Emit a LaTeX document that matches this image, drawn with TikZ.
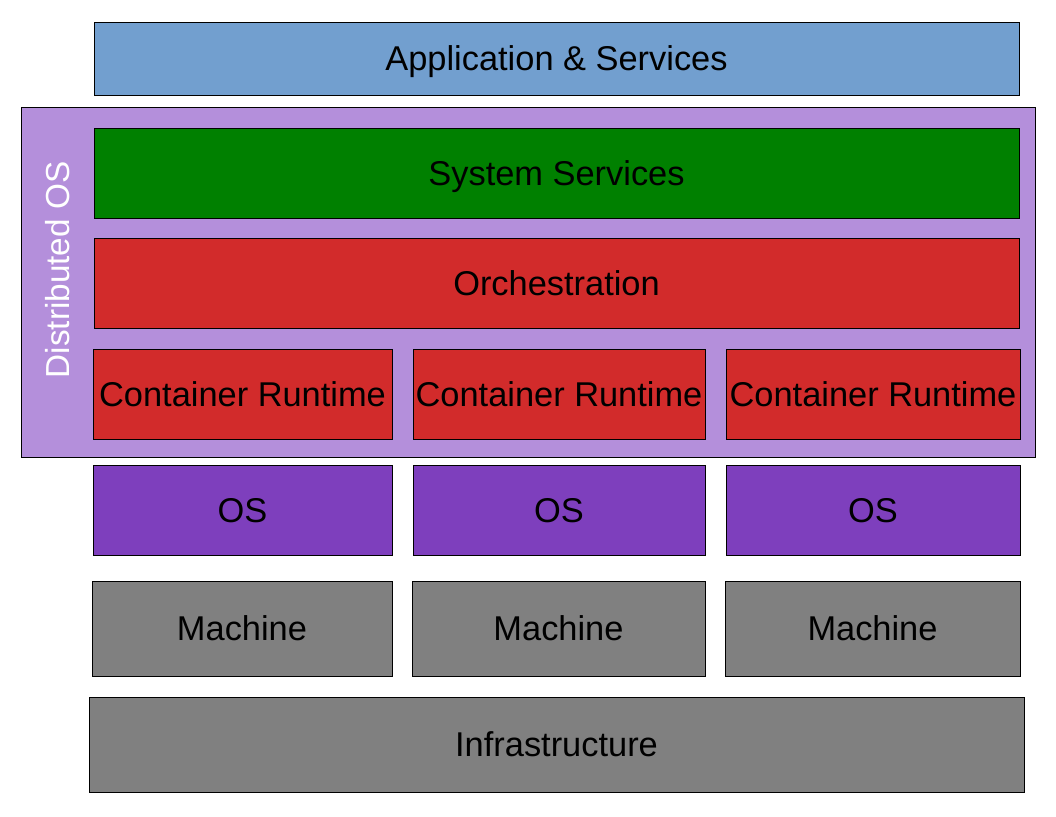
\documentclass[tikz,border=0pt]{standalone}
\usepackage{fontspec}
\setmainfont{Liberation Sans}
\definecolor{appblue}{HTML}{729FCF}
\definecolor{sysgreen}{HTML}{008000}
\definecolor{orchred}{HTML}{D22B2B}
\definecolor{ospurple}{HTML}{7E3FBD}
\definecolor{distlilac}{HTML}{B48FDB}
\definecolor{hwgray}{HTML}{808080}
\begin{document}
\begin{tikzpicture}[x=1pt, y=-1pt,
  layer/.style={draw=black, line width=0.9pt, inner sep=0pt, text depth=0pt, font=\fontsize{34.4}{40}\selectfont}]
\useasboundingbox (0,0) rectangle (1056,816);
\node[layer, fill=appblue, minimum width=925, minimum height=73] (app) at (556.5,58.5){Application \& Services};
\node[layer, fill=distlilac, minimum width=1014, minimum height=350] (dist) at (528,282){};
\node[rotate=90, text=white, font=\fontsize{33.3}{40}\selectfont] (distlbl) at (58,270){Distributed OS};
\node[layer, fill=sysgreen, minimum width=925, minimum height=90] (sys) at (556.5,173){System Services};
\node[layer, fill=orchred, minimum width=925, minimum height=90] (orch) at (556.5,283){Orchestration};
\node[layer, fill=orchred, minimum width=299, minimum height=90] (cr1) at (242.5,394){Container Runtime};
\node[layer, fill=orchred, minimum width=292, minimum height=90] (cr2) at (559,394){Container Runtime};
\node[layer, fill=orchred, minimum width=294, minimum height=90] (cr3) at (873,394){Container Runtime};
\node[layer, fill=ospurple, minimum width=299, minimum height=90] (os1) at (242.5,510){OS};
\node[layer, fill=ospurple, minimum width=292, minimum height=90] (os2) at (559,510){OS};
\node[layer, fill=ospurple, minimum width=294, minimum height=90] (os3) at (873,510){OS};
\node[layer, fill=hwgray, minimum width=300, minimum height=95] (m1) at (242,628.5){Machine};
\node[layer, fill=hwgray, minimum width=293, minimum height=95] (m2) at (558.5,628.5){Machine};
\node[layer, fill=hwgray, minimum width=295, minimum height=95] (m3) at (872.5,628.5){Machine};
\node[layer, fill=hwgray, minimum width=935, minimum height=95] (infra) at (556.5,744.5){Infrastructure};
\end{tikzpicture}
\end{document}
